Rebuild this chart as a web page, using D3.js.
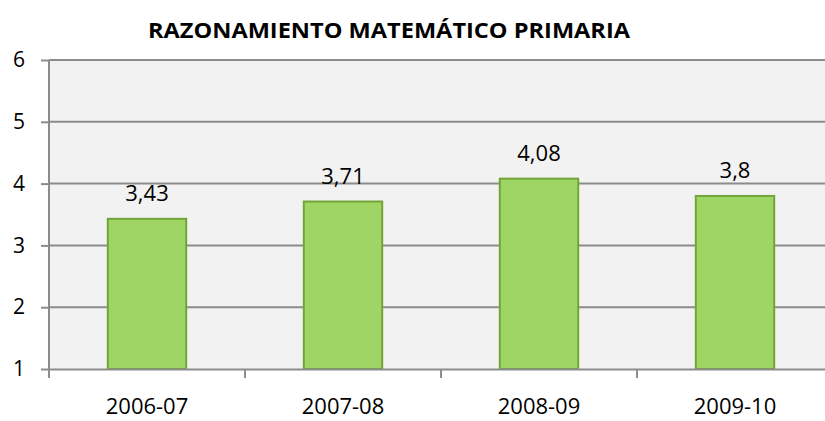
<!DOCTYPE html>
<html>
<head>
<meta charset="utf-8">
<script src="https://cdn.jsdelivr.net/npm/d3@7"></script>
<style>
  body { margin: 0; background: #fff; }
  text { font-family: "Open Sans", sans-serif; fill: #000; }
</style>
</head>
<body>
<div id="chart"></div>
<script>
var categories = ["2006-07", "2007-08", "2008-09", "2009-10"];
var values = [3.43, 3.71, 4.08, 3.8];
var yTicks = [1, 2, 3, 4, 5, 6];
var title = "RAZONAMIENTO MATEMÁTICO PRIMARIA";

var width = 825, height = 421;
var margin = { top: 60, left: 49, bottom: 52 };
// plot runs past the right edge of the window, like the original
var plotWidth = 784;
var plotHeight = height - margin.top - margin.bottom;

var svg = d3.select("#chart")
  .append("svg")
  .attr("width", width)
  .attr("height", height);

var g = svg.append("g")
  .attr("transform", "translate(" + margin.left + "," + margin.top + ")");

var x = d3.scaleBand().domain(categories).range([0, plotWidth]).paddingInner(0.6).paddingOuter(0.3);
var xBand = d3.scaleBand().domain(categories).range([0, plotWidth]);
var y = d3.scaleLinear().domain([1, 6]).range([plotHeight, 0]);

// background
g.append("rect")
  .attr("width", plotWidth)
  .attr("height", plotHeight)
  .attr("fill", "#f2f2f2");

// gridlines
g.selectAll(".grid")
  .data(yTicks.slice(1))
  .enter()
  .append("line")
  .attr("x1", 0)
  .attr("x2", plotWidth)
  .attr("y1", function (d) { return y(d); })
  .attr("y2", function (d) { return y(d); })
  .attr("stroke", "#8c8c8c")
  .attr("stroke-width", 2);

// bars
g.selectAll(".bar")
  .data(values)
  .enter()
  .append("rect")
  .attr("x", function (d, i) { return x(categories[i]); })
  .attr("y", function (d) { return y(d); })
  .attr("width", x.bandwidth())
  .attr("height", function (d) { return y(1) - y(d); })
  .attr("fill", "#9fd564")
  .attr("stroke", "#72a536")
  .attr("stroke-width", 2);

// data labels
g.selectAll(".label")
  .data(values)
  .enter()
  .append("text")
  .attr("x", function (d, i) { return x(categories[i]) + x.bandwidth() / 2; })
  .attr("y", function (d) { return y(d) - 18; })
  .attr("text-anchor", "middle")
  .style("font-size", "22px")
  .text(function (d) { return String(d).replace(".", ","); });

// y axis
var yAxis = g.append("g")
  .call(d3.axisLeft(y).tickValues(yTicks).tickSize(8).tickPadding(16).tickFormat(d3.format("d")));
yAxis.select(".domain").attr("stroke", "#8c8c8c").attr("stroke-width", 2).attr("d", "M0," + (y(1) + 8) + "V" + y(6));
yAxis.selectAll(".tick line").attr("stroke", "#8c8c8c").attr("stroke-width", 2);
yAxis.selectAll(".tick text").style("font-size", "21px").style("font-family", "Open Sans, sans-serif").attr("fill", "#000");

// x axis
var xAxis = g.append("g")
  .attr("transform", "translate(0," + plotHeight + ")")
  .call(d3.axisBottom(xBand).tickSize(0).tickPadding(29));
xAxis.select(".domain").attr("stroke", "#8c8c8c").attr("stroke-width", 2);
xAxis.selectAll(".tick text").style("font-size", "22px").style("font-family", "Open Sans, sans-serif").attr("fill", "#000");

// category boundary ticks
g.selectAll(".xtick")
  .data(categories)
  .enter()
  .append("line")
  .attr("x1", function (d) { return xBand(d); })
  .attr("x2", function (d) { return xBand(d); })
  .attr("y1", plotHeight)
  .attr("y2", plotHeight + 9)
  .attr("stroke", "#8c8c8c")
  .attr("stroke-width", 2);

// title
svg.append("text")
  .attr("x", 389)
  .attr("y", 38)
  .attr("text-anchor", "middle")
  .attr("textLength", 482)
  .attr("lengthAdjust", "spacingAndGlyphs")
  .style("font-size", "21px")
  .style("font-weight", "bold")
  .text(title);
</script>
</body>
</html>
